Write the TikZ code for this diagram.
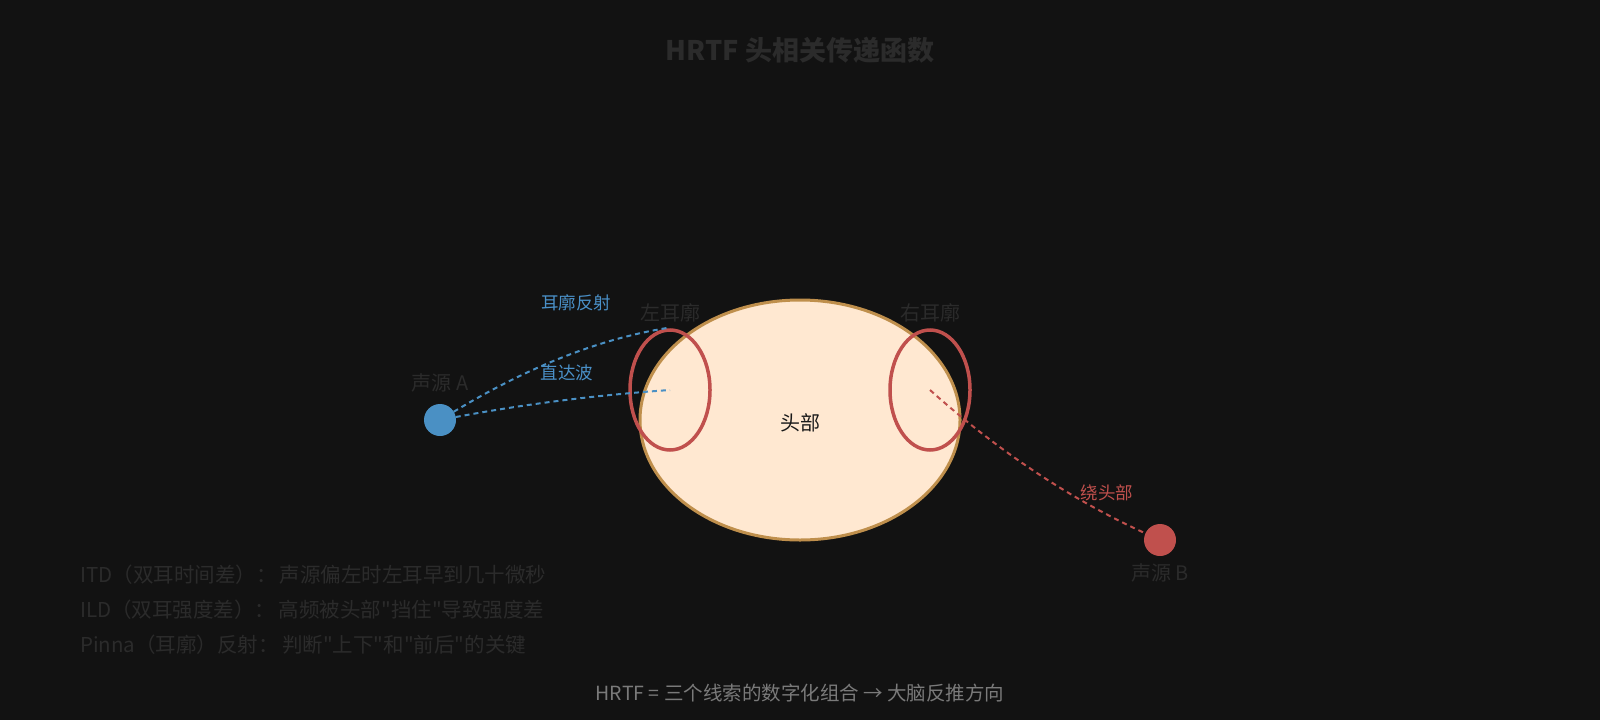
\documentclass[tikz,border=0pt]{standalone}
\usepackage{fontspec}
\setmainfont{Noto Sans CJK SC}[Ligatures=TeXOff]
\usetikzlibrary{shapes.geometric}
\definecolor{bgc}{HTML}{121212}
\definecolor{dimtxt}{HTML}{2B2B2B}
\definecolor{headfill}{HTML}{FFE8D1}
\definecolor{headline}{HTML}{BF8F4C}
\definecolor{earred}{HTML}{C0504D}
\definecolor{srcblue}{HTML}{4A90C4}
\definecolor{bluetxt}{HTML}{4A90C8}
\definecolor{footgray}{HTML}{7A7A7A}
\begin{document}
\begin{tikzpicture}[x=1pt,y=-1pt,
  dimlbl/.style={font=\fontsize{20}{24}\selectfont, text=dimtxt, inner sep=0pt},
  wavelbl/.style={font=\fontsize{17.5}{21}\selectfont, inner sep=0pt},
  earshape/.style={ellipse, draw=earred, line width=3.5pt, minimum width=80pt, minimum height=120pt, inner sep=0pt, outer sep=0pt},
  srcdot/.style={circle, minimum size=32pt, inner sep=0pt, outer sep=0pt},
  wave/.style={line width=2pt, dash pattern=on 5pt off 4pt},
  infoline/.style={font=\fontsize{20.5}{24}\selectfont, text=dimtxt, anchor=west, inner sep=0pt}]
\fill[bgc] (0,0) rectangle (1600,720);
\useasboundingbox (0,0) rectangle (1600,720);

% title
\node[font=\bfseries\fontsize{27}{32}\selectfont, text=dimtxt, inner sep=0pt] (title) at (800,50) {HRTF 头相关传递函数};

% head and ears
\node[ellipse, fill=headfill, draw=headline, line width=3pt, minimum width=320pt, minimum height=240pt, inner sep=0pt, outer sep=0pt] (head) at (800,420) {};
\node[text=black!90, font=\fontsize{20}{24}\selectfont, inner sep=0pt] (headlbl) at (800,423) {头部};
\node[earshape] (earL) at (670,390) {};
\node[earshape] (earR) at (930,390) {};
\node[dimlbl] (earLlbl) at (670,313) {左耳廓};
\node[dimlbl] (earRlbl) at (930,313) {右耳廓};

% sources
\node[srcdot] (srcA) at (440,420) {};
\node[srcdot] (srcB) at (1160,540) {};
\coordinate (earLtop) at (667,328);

% waves
\draw[wave, srcblue] (srcA) .. controls (528,367) and (599,339) .. (earLtop);
\draw[wave, srcblue] (srcA) .. controls (525,404) and (597,395) .. (earL.center);
\draw[wave, earred] (earR.center) .. controls (997,450) and (1068,498) .. (srcB);

\fill[srcblue] (srcA) circle (16pt);
\fill[earred] (srcB) circle (16pt);

\node[dimlbl] (srcAlbl) at (440,383) {声源 A};
\node[dimlbl] (srcBlbl) at (1160,573) {声源 B};

\node[wavelbl, text=bluetxt] (reflbl) at (576,303) {耳廓反射};
\node[wavelbl, text=bluetxt] (dirlbl) at (567,373) {直达波};
\node[wavelbl, text=earred] (aroundlbl) at (1107,493) {绕头部};

% info lines
\node[infoline] (itd) at (80,575) {ITD（双耳时间差）：\,声源偏左时左耳早到几十微秒};
\node[infoline] (ild) at (80,610) {ILD（双耳强度差）：\,高频被头部"挡住"导致强度差};
\node[infoline] (pinna) at (80,645) {Pinna（耳廓）反射：\,判断"上下"和"前后"的关键};

\node[font=\fontsize{19.5}{23}\selectfont, text=footgray, inner sep=0pt] (foot) at (800,693) {HRTF = 三个线索的数字化组合 → 大脑反推方向};
\end{tikzpicture}
\end{document}
